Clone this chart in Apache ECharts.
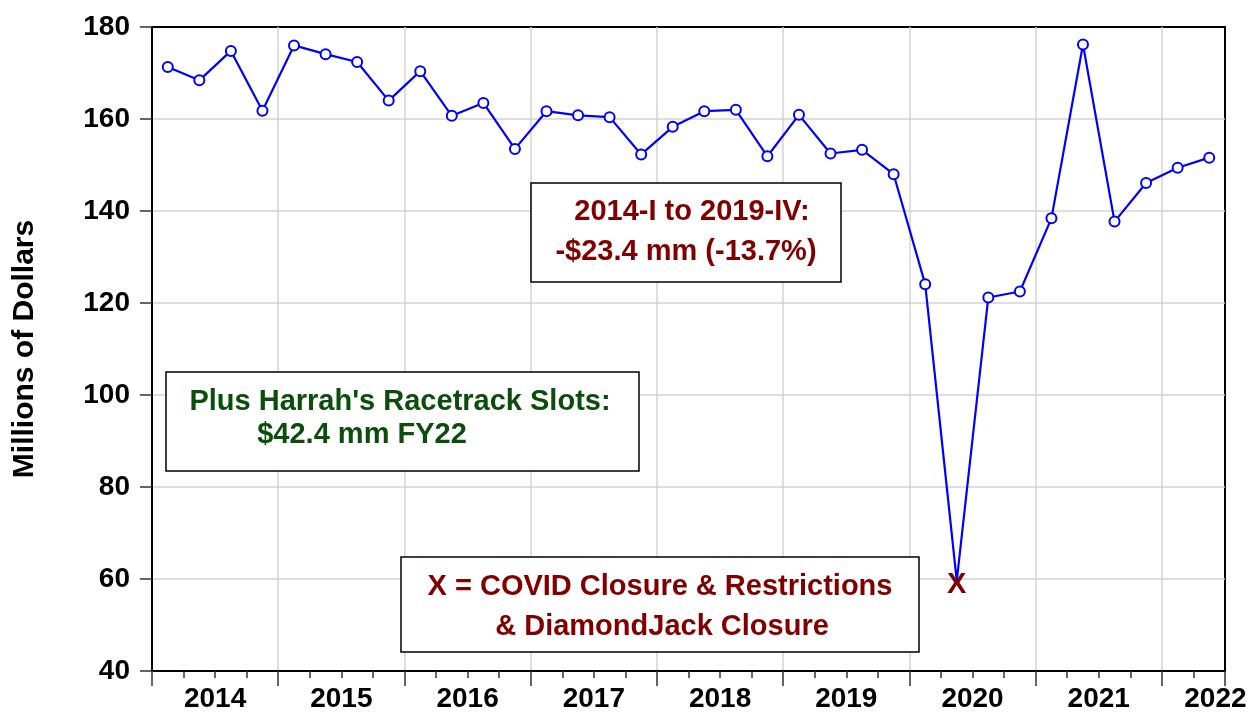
<!DOCTYPE html>
<html>
<head>
<meta charset="utf-8">
<script src="https://cdn.jsdelivr.net/npm/echarts@6/dist/echarts.min.js"></script>
<style>
  html, body { margin: 0; padding: 0; background: #fff; }
  #myChart { width: 1251px; height: 717px; }
</style>
</head>
<body>
<div id="myChart"></div>
<script>
// quarterly, 2014-I .. 2022-II
const years = ["2014", "2015", "2016", "2017", "2018", "2019", "2020", "2021", "2022"];
const values = [
  171.3, 168.4, 174.8, 161.8,
  176.0, 174.1, 172.4, 164.0,
  170.4, 160.7, 163.5, 153.5,
  161.7, 160.8, 160.4, 152.3,
  158.3, 161.7, 162.0, 151.9,
  160.9, 152.5, 153.3, 148.0,
  124.1, 59.6, 121.2, 122.5,
  138.4, 176.2, 137.7, 146.1,
  149.4, 151.6
];
const covidIdx = 25; // 2020-II
const yTicks = { min: 40, max: 180, step: 20 };

const font = "'Liberation Sans', Arial, sans-serif";
const darkRed = "#800000";
const darkGreen = "#0b4d0b";
const nQ = values.length;

// line data, a quarter sits in the middle of its slot
const lineData = values.map((v, i) => {
  if (i === covidIdx) return { value: [i + 0.5, v], symbol: "none" };
  return [i + 0.5, v];
});

function yearLabel(v) {
  if (v % 4 === 2 && (v - 2) / 4 < years.length - 1) return years[(v - 2) / 4];
  if (v === nQ - 1) return "{r|" + years[years.length - 1] + "}"; // half year 2022
  return "";
}

function textBox(x, y, w, h, lines, color) {
  const children = [{
    type: "rect", z: 100,
    shape: { x: 0, y: 0, width: w, height: h },
    style: { fill: "#fff", stroke: "#000", lineWidth: 1.5 }
  }];
  lines.forEach((l) => {
    children.push({
      type: "text", z: 101,
      x: l[1], y: l[2],
      style: {
        text: l[0], fill: color, font: "bold 29px " + font,
        textAlign: "center", textVerticalAlign: "middle"
      }
    });
  });
  return { type: "group", x: x, y: y, z: 100, children: children };
}

const chart = echarts.init(document.getElementById("myChart"));
chart.setOption({
  animation: false,
  backgroundColor: "#fff",
  textStyle: { fontFamily: font },
  grid: {
    left: 152, right: 26, top: 27, bottom: 46,
    show: true, borderColor: "#000", borderWidth: 2, backgroundColor: "#fff"
  },
  xAxis: [
    {
      type: "value", min: 0, max: nQ, interval: 4, position: "bottom",
      axisLine: { show: true, onZero: false, lineStyle: { color: "#000", width: 2 } },
      axisTick: { show: true, length: 15, lineStyle: { color: "#333", width: 1.5 } },
      minorTick: { show: true, splitNumber: 4, length: 7, lineStyle: { color: "#333", width: 1.5 } },
      splitLine: { show: true, showMinLine: false, showMaxLine: false, lineStyle: { color: "#d3d3d3", width: 1.5 } },
      axisLabel: { show: false }
    },
    {
      // year labels, centred in each year's span
      type: "value", min: 0, max: nQ, interval: 1, position: "bottom",
      axisLine: { show: false }, axisTick: { show: false }, splitLine: { show: false },
      axisLabel: {
        margin: 14, color: "#000", fontSize: 28, fontWeight: "bold", fontFamily: font,
        formatter: yearLabel,
        rich: { r: { fontSize: 28, fontWeight: "bold", fontFamily: font, color: "#000", padding: [0, 0, 0, 44] } }
      }
    }
  ],
  yAxis: {
    type: "value", min: yTicks.min, max: yTicks.max, interval: yTicks.step,
    name: "Millions of Dollars", nameLocation: "middle", nameGap: 112, nameRotate: 90,
    nameTextStyle: { color: "#000", fontSize: 30, fontWeight: "bold", fontFamily: font },
    axisLine: { show: true, lineStyle: { color: "#000", width: 2 } },
    axisTick: { show: true, length: 12, lineStyle: { color: "#333", width: 1.5 } },
    splitLine: { show: true, showMinLine: false, showMaxLine: false, lineStyle: { color: "#d3d3d3", width: 1.5 } },
    axisLabel: { margin: 22, color: "#000", fontSize: 28, fontWeight: "bold", fontFamily: font }
  },
  series: [
    {
      type: "line", data: lineData, xAxisIndex: 0,
      symbol: "emptyCircle", symbolSize: 10, showAllSymbol: true,
      lineStyle: { color: "#0000ff", width: 2.2 },
      itemStyle: { color: "#0000ff", borderWidth: 1.5 },
      z: 5
    },
    {
      // COVID marker
      type: "scatter", xAxisIndex: 0,
      data: [[covidIdx + 0.5, values[covidIdx]]],
      symbolSize: 0,
      itemStyle: { opacity: 1 },
      label: {
        show: true, position: "inside", formatter: "X", offset: [0, 4],
        color: darkRed, opacity: 1, fontSize: 29, fontWeight: "bold", fontFamily: font
      },
      z: 6
    }
  ],
  graphic: [
    textBox(531, 183, 310, 99, [
      ["2014-I to 2019-IV:", 161, 29],
      ["-$23.4 mm (-13.7%)", 155, 69]
    ], darkRed),
    textBox(166, 372, 473, 99, [
      ["Plus Harrah's Racetrack Slots:", 234, 30],
      ["$42.4 mm FY22", 196, 63]
    ], darkGreen),
    textBox(401, 557, 518, 95, [
      ["X = COVID Closure & Restrictions", 259, 30],
      ["& DiamondJack Closure", 261, 70]
    ], darkRed)
  ]
});
</script>
</body>
</html>
